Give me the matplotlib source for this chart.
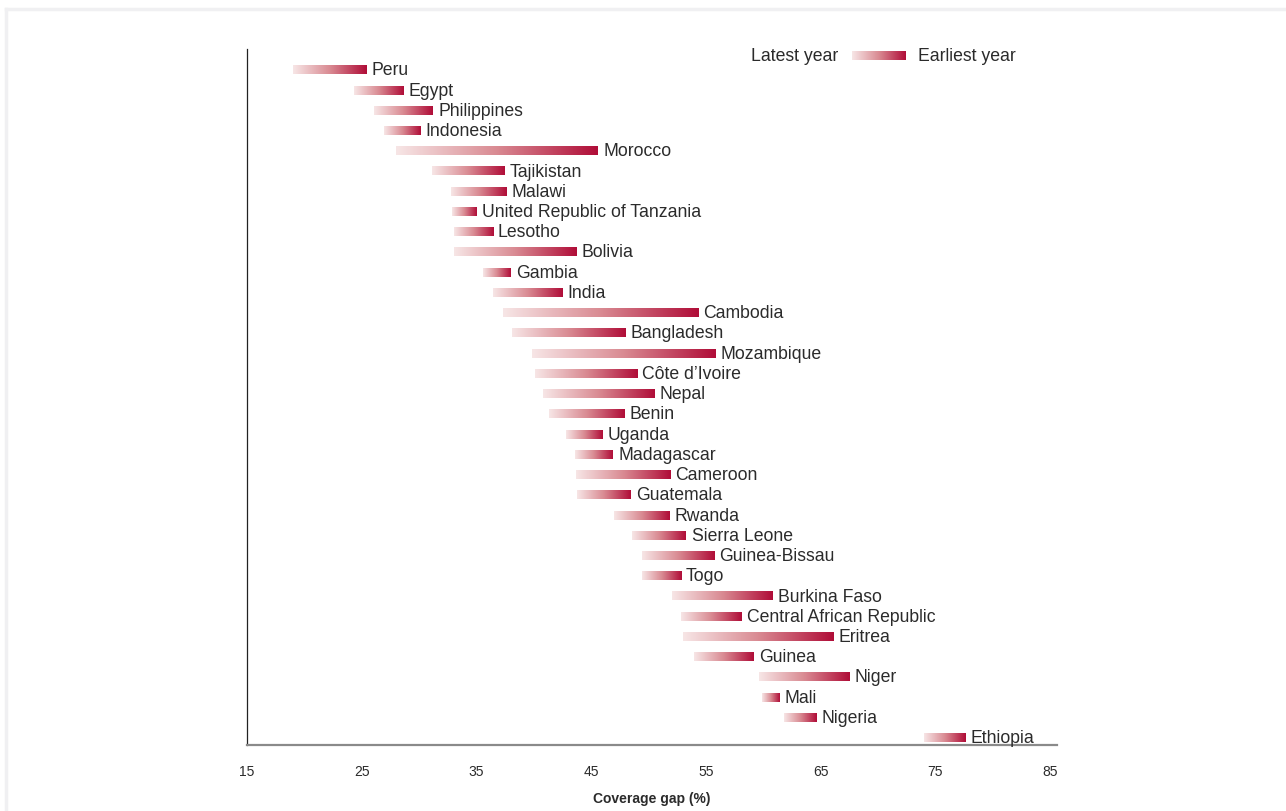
import numpy as np
import matplotlib
matplotlib.use("Agg")
import matplotlib.pyplot as plt
from matplotlib.colors import LinearSegmentedColormap
from matplotlib.lines import Line2D

plt.rcParams['font.family'] = ['Liberation Sans', 'DejaVu Sans']

# data: coverage gap (%) for latest and earliest year
countries = ["Peru", "Egypt", "Philippines", "Indonesia", "Morocco", "Tajikistan",
             "Malawi", "United Republic of Tanzania", "Lesotho", "Bolivia", "Gambia",
             "India", "Cambodia", "Bangladesh", "Mozambique", "Côte d\u2019Ivoire",
             "Nepal", "Benin", "Uganda", "Madagascar", "Cameroon", "Guatemala",
             "Rwanda", "Sierra Leone", "Guinea-Bissau", "Togo", "Burkina Faso",
             "Central African Republic", "Eritrea", "Guinea", "Niger", "Mali",
             "Nigeria", "Ethiopia"]
latest = [19.0, 24.3, 26.1, 26.9, 28.0, 31.1, 32.8, 32.9, 33.0, 33.0, 35.6,
          36.4, 37.3, 38.1, 39.8, 40.1, 40.8, 41.3, 42.8, 43.6, 43.7, 43.8,
          47.0, 48.6, 49.4, 49.4, 52.0, 52.8, 53.0, 54.0, 59.6, 59.9, 61.8, 74.0]
earliest = [25.4, 28.6, 31.2, 30.1, 45.6, 37.4, 37.6, 35.0, 36.4, 43.7, 38.0,
            42.5, 54.3, 48.0, 55.8, 49.0, 50.5, 47.9, 46.0, 46.9, 51.9, 48.5,
            51.8, 53.3, 55.7, 52.8, 60.8, 58.1, 66.1, 59.2, 67.5, 61.4, 64.6, 77.6]
xticks = [15, 25, 35, 45, 55, 65, 75, 85]

cmap = LinearSegmentedColormap.from_list("gap", ["#f7e6e6", "#d98a92", "#b00d38"])
grad = np.linspace(0, 1, 256).reshape(1, -1)
bar_h = 0.44
text_col = "#2b2b2b"

fig = plt.figure(figsize=(12.86, 8.12), dpi=100)
ax = fig.add_axes([247 / 1286, 1 - 746 / 812, 810 / 1286, 696 / 812])

for i, (lo, hi, name) in enumerate(zip(latest, earliest, countries)):
    ax.imshow(grad, cmap=cmap, aspect="auto", interpolation="bilinear",
              extent=(lo, hi, i + bar_h / 2, i - bar_h / 2))
    ax.text(hi + 0.45, i, name, va="center", ha="left", fontsize=12.7, color=text_col)

# legend
ly = -0.72
ax.imshow(grad, cmap=cmap, aspect="auto", interpolation="bilinear",
          extent=(67.75, 72.4, ly + bar_h / 2, ly - bar_h / 2))
ax.text(66.5, ly, "Latest year", ha="right", va="center", fontsize=12.7, color=text_col)
ax.text(73.5, ly, "Earliest year", ha="left", va="center", fontsize=12.7, color=text_col)

ax.set_xlim(15, 85.6)
ax.set_ylim(len(countries) - 1 + 0.36, -1.03)
ax.set_yticks([])
ax.set_xticks(xticks)
ax.set_xticklabels([str(t) for t in xticks], fontsize=10, color=text_col)
ax.tick_params(axis="x", length=0, pad=14)
ax.set_xlabel("Coverage gap (%)", fontsize=10, fontweight="bold", color=text_col, labelpad=9)

ax.spines["top"].set_visible(False)
ax.spines["right"].set_visible(False)
ax.spines["left"].set_color("#222222")
ax.spines["left"].set_linewidth(0.9)
ax.spines["bottom"].set_color("#8a8a8a")
ax.spines["bottom"].set_linewidth(1.6)

# light frame at top and left of the panel
fig.add_artist(Line2D([6 / 1286, 6 / 1286], [0, 1 - 10 / 812], transform=fig.transFigure,
                      color="#f0f0f2", lw=2.5))
fig.add_artist(Line2D([6 / 1286, 1], [1 - 10 / 812, 1 - 10 / 812], transform=fig.transFigure,
                      color="#f0f0f2", lw=2.5))

fig.savefig("out.png", dpi=100)
